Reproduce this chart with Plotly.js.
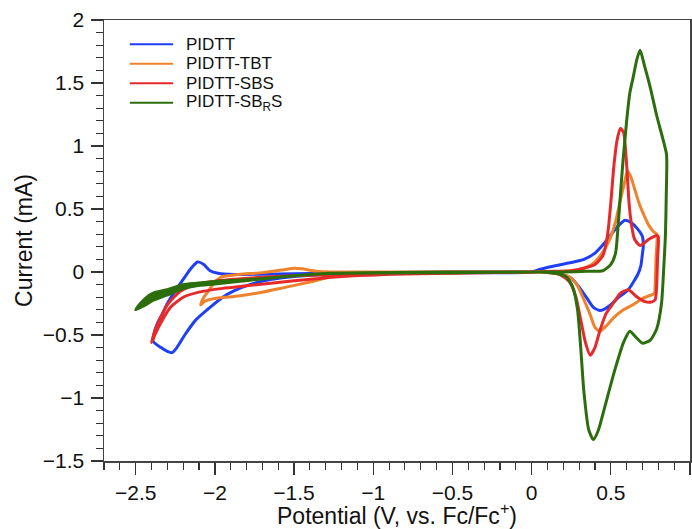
<!DOCTYPE html>
<html>
<head>
<meta charset="utf-8">
<script src="https://cdn.plot.ly/plotly-3.0.1.min.js"></script>
<style>html,body{margin:0;padding:0;background:#fff;}#chart{width:692px;height:529px;}</style>
</head>
<body>
<div id="chart"></div>
<script>
// Series names
const seriesNames = ["PIDTT", "PIDTT-TBT", "PIDTT-SBS", "PIDTT-SB<sub>R</sub>S"];

// PIDTT (blue) potential (V) and current (mA), one CV loop
const pidttX = [0.0, -0.5, -1.0, -1.3, -1.5, -1.65, -1.78, -1.88, -1.95, -2.03, -2.12, -2.19, -2.24, -2.27, -2.30, -2.34, -2.39,
  -2.38, -2.36, -2.33, -2.30, -2.25, -2.19, -2.15, -2.11, -2.07, -2.03, -1.98, -1.88, -1.6, -1.2, -0.6, 0.0,
  0.05, 0.15, 0.25, 0.33, 0.40, 0.46, 0.51, 0.55, 0.59, 0.63, 0.67, 0.70, 0.705, 0.70,
  0.69, 0.67, 0.61, 0.55, 0.49, 0.45, 0.43, 0.39, 0.35, 0.30, 0.25, 0.18, 0.10];
const pidttY = [0.0, -0.005, -0.01, -0.02, -0.035, -0.06, -0.10, -0.15, -0.20, -0.28, -0.38, -0.50, -0.60, -0.64, -0.63, -0.60, -0.55,
  -0.47, -0.40, -0.33, -0.25, -0.15, -0.04, 0.03, 0.08, 0.06, 0.01, -0.01, -0.02, -0.015, -0.01, -0.005, 0.0,
  0.02, 0.05, 0.075, 0.10, 0.15, 0.23, 0.31, 0.37, 0.41, 0.39, 0.34, 0.28, 0.20, 0.15,
  0.05, -0.02, -0.14, -0.20, -0.27, -0.30, -0.305, -0.28, -0.21, -0.12, -0.05, -0.015, 0.0];

// PIDTT-TBT (orange)
const tbtX = [0.0, -0.8, -1.1, -1.27, -1.4, -1.55, -1.72, -1.88, -2.0, -2.06, -2.09,
  -2.07, -2.04, -2.00, -1.96, -1.85, -1.7, -1.58, -1.5, -1.45, -1.35, -1.0, 0.0,
  0.2, 0.3, 0.38, 0.44, 0.49, 0.53, 0.56, 0.585, 0.605, 0.625, 0.65, 0.68, 0.71, 0.74, 0.77, 0.79,
  0.785, 0.78, 0.775, 0.74, 0.70, 0.64, 0.58, 0.52, 0.47, 0.43, 0.40, 0.37, 0.33, 0.29, 0.24, 0.15, 0.05];
const tbtY = [0.0, -0.01, -0.02, -0.04, -0.08, -0.12, -0.165, -0.195, -0.21, -0.23, -0.26,
  -0.20, -0.15, -0.08, -0.04, -0.02, -0.005, 0.015, 0.03, 0.025, 0.005, 0.0, 0.0,
  0.005, 0.02, 0.06, 0.14, 0.25, 0.40, 0.57, 0.70, 0.80, 0.76, 0.66, 0.54, 0.45, 0.37, 0.32, 0.30,
  0.10, -0.10, -0.17, -0.19, -0.21, -0.26, -0.30, -0.36, -0.43, -0.47, -0.44, -0.34, -0.22, -0.11, -0.04, -0.01, 0.0];

// PIDTT-SBS (red)
const sbsX = [0.0, -0.8, -1.2, -1.5, -1.8, -1.95, -2.1, -2.2, -2.28, -2.34, -2.38, -2.40,
  -2.38, -2.35, -2.30, -2.22, -2.12, -1.9, -1.5, -1.0, -0.5, 0.0,
  0.15, 0.25, 0.33, 0.40, 0.45, 0.48, 0.50, 0.52, 0.54, 0.56, 0.58, 0.60, 0.615, 0.63, 0.65, 0.685, 0.74, 0.79, 0.80,
  0.795, 0.79, 0.78, 0.75, 0.716, 0.663, 0.61, 0.56, 0.52, 0.47, 0.43, 0.40, 0.37, 0.34, 0.31, 0.28, 0.24, 0.18, 0.10];
const sbsY = [0.0, -0.015, -0.035, -0.07, -0.11, -0.13, -0.16, -0.20, -0.28, -0.40, -0.50, -0.56,
  -0.47, -0.38, -0.26, -0.155, -0.10, -0.06, -0.03, -0.01, 0.0, 0.0,
  0.005, 0.01, 0.03, 0.06, 0.13, 0.30, 0.55, 0.85, 1.05, 1.14, 1.11, 0.85, 0.55, 0.38, 0.26, 0.21, 0.26, 0.29, 0.28,
  0.10, -0.09, -0.22, -0.24, -0.235, -0.196, -0.14, -0.17, -0.24, -0.33, -0.47, -0.60, -0.66, -0.56, -0.38, -0.20, -0.08, -0.02, 0.0];

// PIDTT-SBRS (green): negative (reduction) half-loop
const sbrsNegX = [0.0, -0.5, -1.0, -1.273, -1.5, -1.778, -2.0, -2.115, -2.2, -2.304, -2.389, -2.45, -2.50,
  -2.47, -2.42, -2.389, -2.304, -2.2, -2.115, -2.0, -1.778, -1.5, -1.273, -1.0, -0.5, 0.0];
const sbrsNegY = [0.0, -0.005, -0.008, -0.012, -0.03, -0.065, -0.095, -0.109, -0.131, -0.184, -0.224, -0.27, -0.30,
  -0.25, -0.19, -0.168, -0.141, -0.10, -0.089, -0.075, -0.06, -0.03, -0.01, -0.005, 0.0, 0.0];
// PIDTT-SBRS (green): positive (oxidation) half-loop
const sbrsPosX = [0.0, 0.2, 0.35, 0.45, 0.50, 0.53, 0.545, 0.558, 0.575, 0.60, 0.62, 0.642, 0.665, 0.685, 0.71, 0.75, 0.79, 0.83, 0.852,
  0.85, 0.845, 0.835, 0.82, 0.79, 0.75, 0.70, 0.66, 0.62, 0.58, 0.52, 0.46, 0.42, 0.39, 0.36, 0.33, 0.31, 0.29, 0.26, 0.22, 0.15, 0.05];
const sbrsPosY = [0.0, 0.0, 0.005, 0.01, 0.06, 0.15, 0.35, 0.57, 0.85, 1.20, 1.42, 1.55, 1.69, 1.76, 1.65, 1.46, 1.24, 1.05, 0.93,
  0.60, 0.30, 0.05, -0.25, -0.45, -0.54, -0.565, -0.52, -0.47, -0.56, -0.80, -1.08, -1.26, -1.33, -1.25, -0.95, -0.60, -0.30, -0.12, -0.04, -0.01, 0.0];

const colors = ["#1f3ff5", "#f0822d", "#e62a2a", "#2c6e0c"];
const FONT = "Liberation Sans, Arial, Helvetica, sans-serif";

function lineTrace(x, y, i, extra) {
  return Object.assign({
    x: x, y: y, type: "scatter", mode: "lines", name: seriesNames[i], showlegend: false,
    line: {color: colors[i], width: 3, shape: "spline", smoothing: 0.6}
  }, extra || {});
}

const traces = [
  lineTrace(pidttX, pidttY, 0),
  lineTrace(tbtX, tbtY, 1),
  lineTrace(sbsX, sbsY, 2),
  lineTrace(sbrsNegX, sbrsNegY, 3, {fill: "toself", fillcolor: colors[3]}),
  lineTrace(sbrsPosX, sbrsPosY, 3)
];

// Manual legend (line samples + labels) in paper coordinates
const legendShapes = [];
const legendAnns = [];
const legTop = 0.945, legStep = 0.0442;
seriesNames.forEach((n, i) => {
  const yy = legTop - i * legStep;
  legendShapes.push({type: "line", xref: "paper", yref: "paper", x0: 0.044, x1: 0.118, y0: yy, y1: yy,
    line: {color: colors[i], width: 1.8}});
  legendAnns.push({xref: "paper", yref: "paper", x: 0.139, y: yy, xanchor: "left", yanchor: "middle",
    text: n, showarrow: false, borderpad: 0, font: {family: FONT, size: 17, color: "#111"}});
});

const axisCommon = {
  showgrid: false, zeroline: false, showline: true, linecolor: "#444", linewidth: 1.5, mirror: true,
  ticks: "outside", ticklen: 12, tickwidth: 1.3, tickcolor: "#333",
  tickfont: {family: FONT, size: 21, color: "#111"},
  minor: {ticks: "outside", ticklen: 7, tickwidth: 1.1, tickcolor: "#333", dtick: 0.1, showgrid: false}
};

const layout = {
  width: 692, height: 529,
  margin: {l: 104, r: 2, t: 20, b: 68},
  paper_bgcolor: "#fff", plot_bgcolor: "#fff",
  showlegend: false,
  shapes: legendShapes,
  annotations: legendAnns,
  xaxis: Object.assign({}, axisCommon, {range: [-2.7, 1.0], tick0: 0, dtick: 0.5,
    title: {text: "Potential (V, vs. Fc/Fc<sup>+</sup>)", font: {family: FONT, size: 23, color: "#111"}, standoff: 3}}),
  yaxis: Object.assign({}, axisCommon, {range: [-1.5, 2.0], tick0: 0, dtick: 0.5, ticklabelstandoff: 2,
    title: {text: "Current (mA)", font: {family: FONT, size: 23, color: "#111"}, standoff: 4}})
};

Plotly.newPlot("chart", traces, layout, {displayModeBar: false, staticPlot: true});
</script>
</body>
</html>
